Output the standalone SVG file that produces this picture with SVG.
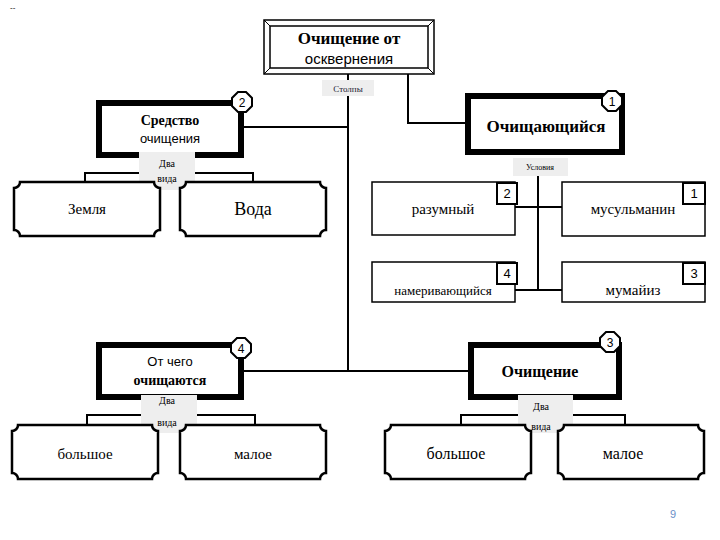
<svg xmlns="http://www.w3.org/2000/svg" width="720" height="540" viewBox="0 0 720 540">
<style>
.thick{fill:#fff;stroke:#000;stroke-width:6}
.thin{fill:#fff;stroke:#000;stroke-width:1.5}
.ln{fill:none;stroke:#000;stroke-width:2}
.lbl{fill:#eeeeee}
.badge{fill:#fff;stroke:#000;stroke-width:2}
.sf{font-family:'Liberation Serif','DejaVu Serif',serif}
.ss{font-family:'Liberation Sans','DejaVu Sans',sans-serif}
</style>
<defs>
<path id="notch" d="M6,0 H140 A6,6 0 0 0 146,6 V48 A6,6 0 0 0 140,54 H6 A6,6 0 0 0 0,48 V6 A6,6 0 0 0 6,0 Z" fill="#fff" stroke="#000" stroke-width="2.5"/>
<polygon id="oct" points="-4,-10 4,-10 10,-4 10,4 4,10 -4,10 -10,4 -10,-4" class="badge"/>
</defs>
<text x="10" y="10" class="ss" font-size="8">--</text>
<g id="connectors">
<path class="ln" d="M348,74 V372"/>
<path class="ln" d="M408,74 V123 H468"/>
<path class="ln" d="M243,127 H348"/>
<path class="ln" d="M241,371 H470"/>
<path class="ln" d="M538,176 V290 M515,207 H562 M515,290 H562"/>
<path class="ln" d="M85,182 V173 H253 V182"/>
<path class="ln" d="M87,425 V415 H255 V425"/>
<path class="ln" d="M461,425 V415 H625 V425"/>
</g>
<g text-anchor="middle">
<g id="top">
<rect x="264" y="20" width="170" height="54" fill="#fff" stroke="#000" stroke-width="1.5"/>
<rect x="270" y="26" width="158" height="42" fill="none" stroke="#000" stroke-width="1.5"/>
<path d="M264,20 L270,26 M434,20 L428,26 M264,74 L270,68 M434,74 L428,68" stroke="#000"/>
<text x="349" y="44" class="sf" font-size="17" font-weight="bold">Очищение от</text>
<text x="349" y="64" class="ss" font-size="15">осквернения</text>
</g>
<g id="stolpy"><rect x="322" y="80" width="52" height="16" class="lbl"/><text x="348" y="92" class="sf" font-size="9" fill="#223">Столпы</text></g>
<g id="sredstvo">
<rect x="99" y="103" width="142" height="52" class="thick"/>
<text x="170" y="125" class="sf" font-size="14" font-weight="bold">Средство</text>
<text x="170" y="143" class="ss" font-size="13">очищения</text>
<use href="#oct" x="242" y="102"/><text x="242" y="107" class="ss" font-size="12">2</text>
</g>
<g id="ochishch">
<rect x="468" y="96" width="154" height="56" class="thick"/>
<text x="546" y="132" class="sf" font-size="17" font-weight="bold">Очищающийся</text>
<use href="#oct" x="612" y="101"/><text x="612" y="106" class="ss" font-size="12">1</text>
</g>
<g id="dva1"><rect x="139" y="152" width="56" height="38" class="lbl"/><text x="167" y="167" class="sf" font-size="10">Два</text><text x="167" y="182" class="sf" font-size="10">вида</text></g>
<g id="zemlya"><use href="#notch" x="14" y="182"/><text x="87" y="214" class="sf" font-size="15">Земля</text></g>
<g id="voda"><use href="#notch" x="180" y="182"/><text x="253" y="215" class="sf" font-size="18">Вода</text></g>
<g id="usloviya"><rect x="513" y="158" width="55" height="18" class="lbl"/><text x="540" y="170" class="sf" font-size="8">Условия</text></g>
<g id="razum"><rect x="372" y="182" width="143" height="53" class="thin"/><text x="443" y="214" class="sf" font-size="15">разумный</text>
<rect x="497" y="183" width="20" height="21" class="badge"/><text x="507" y="198" class="ss" font-size="13">2</text></g>
<g id="musul"><rect x="562" y="182" width="143" height="54" class="thin"/><text x="633" y="214" class="sf" font-size="15">мусульманин</text>
<rect x="683" y="183" width="22" height="21" class="badge"/><text x="694" y="198" class="ss" font-size="13">1</text></g>
<g id="nameriv"><rect x="372" y="262" width="143" height="40" class="thin"/><text x="443" y="295" class="sf" font-size="13">намеривающийся</text>
<rect x="497" y="263" width="20" height="21" class="badge"/><text x="507" y="278" class="ss" font-size="13">4</text></g>
<g id="mumayiz"><rect x="562" y="262" width="143" height="40" class="thin"/><text x="633" y="295" class="sf" font-size="15">мумайиз</text>
<rect x="683" y="263" width="22" height="21" class="badge"/><text x="694" y="278" class="ss" font-size="13">3</text></g>
<g id="otchego">
<rect x="99" y="345" width="142" height="52" class="thick"/>
<text x="170" y="366" class="ss" font-size="13">От чего</text>
<text x="170" y="385" class="sf" font-size="14" font-weight="bold">очищаются</text>
<use href="#oct" x="241" y="348"/><text x="241" y="353" class="ss" font-size="12">4</text>
</g>
<g id="ochishchenie">
<rect x="471" y="345" width="148" height="52" class="thick"/>
<text x="540" y="377" class="sf" font-size="16" font-weight="bold">Очищение</text>
<use href="#oct" x="610" y="342"/><text x="610" y="347" class="ss" font-size="12">3</text>
</g>
<g id="dva2"><rect x="141" y="395" width="56" height="38" class="lbl"/><text x="167" y="404" class="sf" font-size="10">Два</text><text x="167" y="426" class="sf" font-size="10">вида</text></g>
<g id="dva3"><rect x="518" y="395" width="55" height="38" class="lbl"/><text x="541" y="410" class="sf" font-size="10">Два</text><text x="541" y="430" class="sf" font-size="10">вида</text></g>
<g id="bolshoe1"><use href="#notch" x="12" y="425"/><text x="85" y="459" class="sf" font-size="15">большое</text></g>
<g id="maloe1"><use href="#notch" x="180" y="425"/><text x="253" y="459" class="sf" font-size="15">малое</text></g>
<g id="bolshoe2"><use href="#notch" x="385" y="425"/><text x="456" y="459" class="sf" font-size="16">большое</text></g>
<g id="maloe2"><use href="#notch" x="558" y="425"/><text x="623" y="459" class="sf" font-size="16">малое</text></g>
</g>
<text x="673" y="518" class="ss" font-size="11" fill="#6a8fc8" text-anchor="middle">9</text>
</svg>
